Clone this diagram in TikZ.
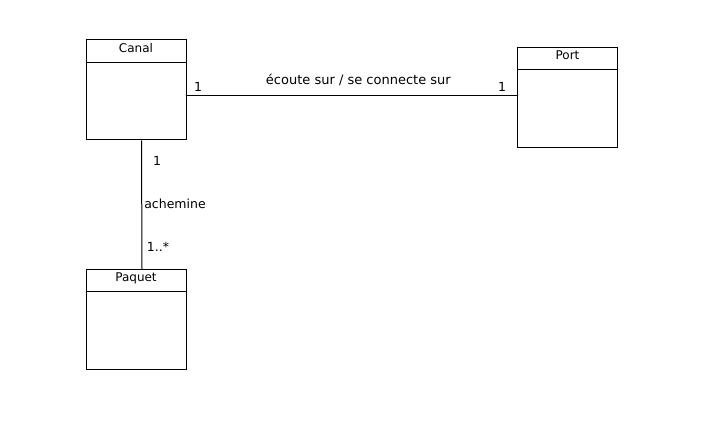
\documentclass[tikz,border=0pt]{standalone}
\usepackage{fontspec}
\setmainfont{DejaVu Sans}
\usetikzlibrary{positioning}

\begin{document}
\begin{tikzpicture}[x=1pt,y=-1pt]
    \tikzset{classe/.style={
        draw, line width=1pt, minimum width=100pt, minimum height=100pt, inner sep=0pt
      },
      titre/.style={draw, line width=1pt, anchor=north, minimum width=100pt,
        inner sep=0pt, text height=9pt, text depth=7pt, font=\fontsize{12}{14}\selectfont},
      lien/.style={line width=1pt},
      mult/.style={font=\fontsize{12.5}{14}\selectfont, inner sep=0pt}
    }
    \useasboundingbox (0,0) rectangle (709,446);

    \node[classe, anchor=north west] (canal) at (85.5,39.5) {};
    \node[titre, minimum height=22.5pt] (canal-t) at (canal.north) {Canal};

    \node[classe, anchor=north west] (port) at (517,47) {};
    \node[titre, minimum height=22pt] (port-t) at (port.north) {Port};

    \node[classe, anchor=north west] (paquet) at (85.5,269) {};
    \node[titre, minimum height=22pt] (paquet-t) at (paquet.north) {Paquet};

    \draw[lien] ([yshift=-5.5pt]canal.east) -- ([yshift=2pt]port.west)
      node[mult, pos=0.52, above=9pt, font=\fontsize{13}{15}\selectfont] {écoute sur / se connecte sur};
    \draw[lien] ([xshift=5.5pt]canal.south) -- ([xshift=6pt]paquet.north);

    % multiplicites
    \node[mult] (m1) at (198,87) {1};
    \node[mult] (m2) at (502,87) {1};
    \node[mult] (m3) at (157,161) {1};
    \node[mult] (r2) at (175,204) {achemine};
    \node[mult] (m4) at (158,247) {1..*};
  \end{tikzpicture}
\end{document}
